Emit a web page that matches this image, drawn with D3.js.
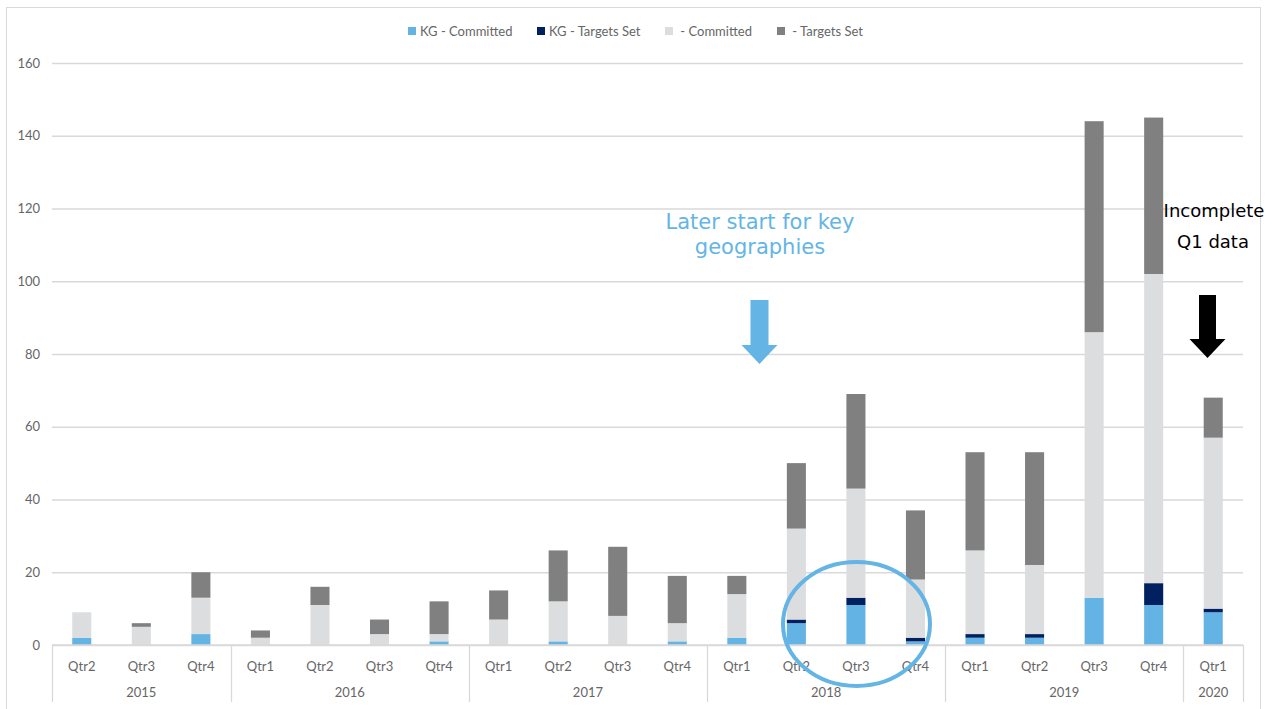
<!DOCTYPE html>
<html>
<head>
<meta charset="utf-8">
<script src="https://cdn.jsdelivr.net/npm/d3@7"></script>
<style>
  html, body { margin: 0; padding: 0; background: #ffffff; }
  svg { display: block; }
</style>
</head>
<body>
<svg id="chart" width="1274" height="709"></svg>
<script>
// Quarterly company counts, split into key-geography (KG) and other companies
const years    = ["2015","2015","2015","2016","2016","2016","2016","2017","2017","2017","2017",
                  "2018","2018","2018","2018","2019","2019","2019","2019","2020"];
const quarters = ["Qtr2","Qtr3","Qtr4","Qtr1","Qtr2","Qtr3","Qtr4","Qtr1","Qtr2","Qtr3","Qtr4",
                  "Qtr1","Qtr2","Qtr3","Qtr4","Qtr1","Qtr2","Qtr3","Qtr4","Qtr1"];

const kgCommitted  = [2, 0, 3, 0, 0, 0, 1, 0, 1, 0, 1, 2, 6, 11, 1, 2, 2, 13, 11, 9];
const kgTargetsSet = [0, 0, 0, 0, 0, 0, 0, 0, 0, 0, 0, 0, 1, 2, 1, 1, 1, 0, 6, 1];
const committed    = [7, 5, 10, 2, 11, 3, 2, 7, 11, 8, 5, 12, 25, 30, 16, 23, 19, 73, 85, 47];
const targetsSet   = [0, 1, 7, 2, 5, 4, 9, 8, 14, 19, 13, 5, 18, 26, 19, 27, 31, 58, 43, 11];

const seriesNames  = ["KG - Committed", "KG - Targets Set", " - Committed", " - Targets Set"];
const seriesColors = ["#63b3e4", "#002060", "#dcdddf", "#808080"];
const yTicks = [0, 20, 40, 60, 80, 100, 120, 140, 160];

(function () {
const rows = years.map((yr, i) => ({
  key: yr + "-" + quarters[i], year: yr, qtr: quarters[i],
  s0: kgCommitted[i], s1: kgTargetsSet[i], s2: committed[i], s3: targetsSet[i]
}));

const svg = d3.select("#chart");
const plotL = 52, plotR = 1243, plotT = 63, plotB = 645;
const labelFont = "Lato, 'Open Sans', sans-serif";
const textGrey = "#666666";
const ruleGrey = "#d9d9d9";

// outer chart frame
svg.append("rect")
  .attr("x", 6.5).attr("y", 7.5).attr("width", 1254).attr("height", 720)
  .attr("fill", "none").attr("stroke", ruleGrey).attr("stroke-width", 1);

const x = d3.scaleBand().domain(rows.map(d => d.key))
  .range([plotL, plotR]).paddingInner(0.68).paddingOuter(0.34);
const y = d3.scaleLinear().domain([0, 160]).range([plotB, plotT]);

// gridlines and value labels
const yAxis = svg.append("g").attr("transform", `translate(${plotL},0)`)
  .call(d3.axisLeft(y).tickValues(yTicks).tickSize(-(plotR - plotL)).tickPadding(12));
yAxis.select(".domain").remove();
yAxis.selectAll(".tick line").attr("stroke", ruleGrey).attr("stroke-width", 1.3);
yAxis.selectAll(".tick text").attr("fill", textGrey)
  .style("font-family", labelFont).style("font-size", "13px");

// stacked bars
const stack = d3.stack().keys(["s0", "s1", "s2", "s3"]);
const layers = stack(rows);
svg.append("g").selectAll("g").data(layers).join("g")
  .attr("fill", (d, i) => seriesColors[i])
  .selectAll("rect").data(d => d).join("rect")
    .attr("x", d => x(d.data.key))
    .attr("width", x.bandwidth())
    .attr("y", d => y(d[1]))
    .attr("height", d => y(d[0]) - y(d[1]));

// category axis: quarter labels with year groups beneath
const gap = x.step() - x.bandwidth();
const axisG = svg.append("g");
axisG.append("line").attr("x1", plotL).attr("x2", plotR).attr("y1", plotB).attr("y2", plotB)
  .attr("stroke", ruleGrey).attr("stroke-width", 1.5);

axisG.selectAll("text.qtr").data(rows).join("text")
  .attr("class", "qtr")
  .attr("x", d => x(d.key) + x.bandwidth() / 2)
  .attr("y", 671)
  .attr("text-anchor", "middle")
  .attr("fill", textGrey)
  .style("font-family", labelFont).style("font-size", "13px")
  .text(d => d.qtr);

const groups = d3.groups(rows, d => d.year).map(([yr, items]) => {
  const x0 = x(items[0].key) - gap / 2;
  const x1 = x(items[items.length - 1].key) + x.bandwidth() + gap / 2;
  return { yr, x0, x1 };
});
const bounds = [plotL, ...groups.map(g => g.x1)];
axisG.selectAll("line.sep").data(bounds).join("line")
  .attr("class", "sep")
  .attr("x1", d => Math.round(d) + 0.5).attr("x2", d => Math.round(d) + 0.5)
  .attr("y1", plotB).attr("y2", 702)
  .attr("stroke", ruleGrey).attr("stroke-width", 1.3);
axisG.selectAll("text.year").data(groups).join("text")
  .attr("class", "year")
  .attr("x", d => (d.x0 + d.x1) / 2)
  .attr("y", 697)
  .attr("text-anchor", "middle")
  .attr("fill", textGrey)
  .style("font-family", labelFont).style("font-size", "13px")
  .text(d => d.yr);

// legend
const legendX = [408, 537, 665, 777];
const legend = svg.append("g");
seriesNames.forEach((name, i) => {
  legend.append("rect").attr("x", legendX[i]).attr("y", 27).attr("width", 8).attr("height", 8)
    .attr("fill", seriesColors[i]);
  legend.append("text").attr("x", legendX[i] + 12).attr("y", 35.5)
    .attr("fill", textGrey)
    .style("font-family", labelFont).style("font-size", "13px")
    .style("white-space", "pre")
    .text(name);
});

// annotations
const annoFont = "'DejaVu Sans', Verdana, sans-serif";
const blue = "#64b5e6";
svg.append("text").attr("x", 760).attr("y", 229).attr("text-anchor", "middle")
  .attr("fill", blue).style("font-family", annoFont).style("font-size", "21px")
  .text("Later start for key");
svg.append("text").attr("x", 760).attr("y", 254).attr("text-anchor", "middle")
  .attr("fill", blue).style("font-family", annoFont).style("font-size", "21px")
  .text("geographies");

svg.append("text").attr("x", 1214).attr("y", 217).attr("text-anchor", "middle")
  .attr("fill", "#000").style("font-family", annoFont).style("font-size", "18px")
  .text("Incomplete");
svg.append("text").attr("x", 1213).attr("y", 248).attr("text-anchor", "middle")
  .attr("fill", "#000").style("font-family", annoFont).style("font-size", "18px")
  .text("Q1 data");

function downArrow(cx, yTop, shaftW, headW, headY, tipY, fill) {
  const p = d3.path();
  p.moveTo(cx - shaftW / 2, yTop);
  p.lineTo(cx + shaftW / 2, yTop);
  p.lineTo(cx + shaftW / 2, headY);
  p.lineTo(cx + headW / 2, headY);
  p.lineTo(cx, tipY);
  p.lineTo(cx - headW / 2, headY);
  p.lineTo(cx - shaftW / 2, headY);
  p.closePath();
  svg.append("path").attr("d", p.toString()).attr("fill", fill);
}
downArrow(759.5, 300, 18, 36, 345, 364, blue);
downArrow(1207.5, 295, 17, 36, 339, 358, "#000");

svg.append("ellipse").attr("cx", 856.5).attr("cy", 624).attr("rx", 73.5).attr("ry", 62)
  .attr("fill", "none").attr("stroke", blue).attr("stroke-width", 4);
})();
</script>
</body>
</html>
